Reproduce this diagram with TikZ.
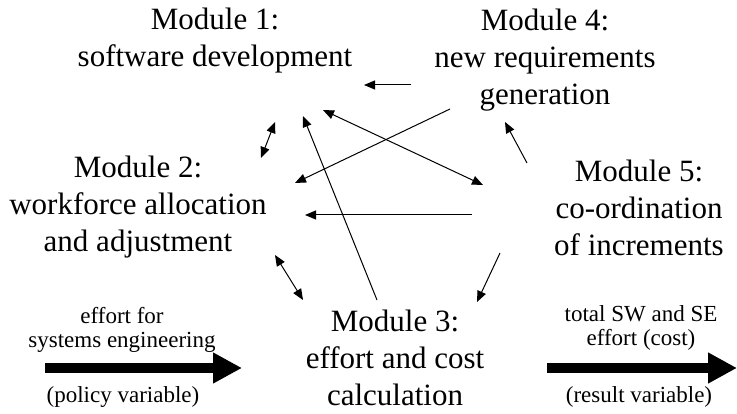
\documentclass[tikz,border=0pt]{standalone}
\usepackage{fontspec}
\setmainfont{Liberation Serif}
\usetikzlibrary{arrows.meta}

\begin{document}
\begin{tikzpicture}[x=1pt, y=-1pt, >={Triangle[length=11pt,width=9pt]},
  module/.style={align=center, font=\fontsize{31}{37}\selectfont, inner sep=0pt},
  flowtext/.style={align=center, font=\fontsize{23}{24}\selectfont, inner sep=0pt},
  link/.style={line width=1pt},
  bigarrow/.style={line width=9pt, -{Triangle[length=29pt,width=29pt]}}]

\useasboundingbox (0,0) rectangle (737,414);

% the five modules
\node [module] (mod-1) at (215,41) {Module 1:\\software development};
\node [module] (mod-2) at (138,207) {Module 2:\\workforce allocation\\and adjustment};
\node [module] (mod-3) at (395,358) {Module 3:\\effort and cost\\calculation};
\node [module] (mod-4) at (545,60) {Module 4:\\new requirements\\generation};
\node [module] (mod-5) at (639,208) {Module 5:\\co-ordination\\of increments};

% input and output labels
\node [flowtext] (policy-top) at (122,330) {effort for\\systems engineering};
\node [flowtext, anchor=base] (policy-bot) at (123,402) {(policy variable)};
\node [flowtext] (result-top) at (641,328) {total SW and SE\\effort (cost)};
\node [flowtext, anchor=base] (result-bot) at (639,402) {(result variable)};

% ends of the links between modules
\foreach \n/\px/\py in {t41/411/85, h41/364/85,
                        t12/275/122, h12/261/158,
                        t31/377/300, h31/303/116,
                        t15/323/110, h15/483/185,
                        t42/450/109, h42/295/183,
                        t52/472/215, h52/305/215,
                        t23/275/255, h23/303/300,
                        t53/500/253, h53/477/302,
                        t54/527/163, h54/505/122}
  \coordinate (\n) at (\px,\py);

\foreach \s/\e in {t41/h41, t31/h31, t42/h42, t52/h52, t53/h53, t54/h54}
  \draw [link,->] (\s) -- (\e);

\foreach \s/\e in {t12/h12, t15/h15, t23/h23}
  \draw [link,<->] (\s) -- (\e);

% policy in, result out
\coordinate (policy-in) at (45,368);
\coordinate (policy-out) at (242,368);
\coordinate (result-in) at (547,368);
\coordinate (result-out) at (737,368);
\draw [bigarrow] (policy-in) -- (policy-out);
\draw [bigarrow] (result-in) -- (result-out);

\end{tikzpicture}
\end{document}
